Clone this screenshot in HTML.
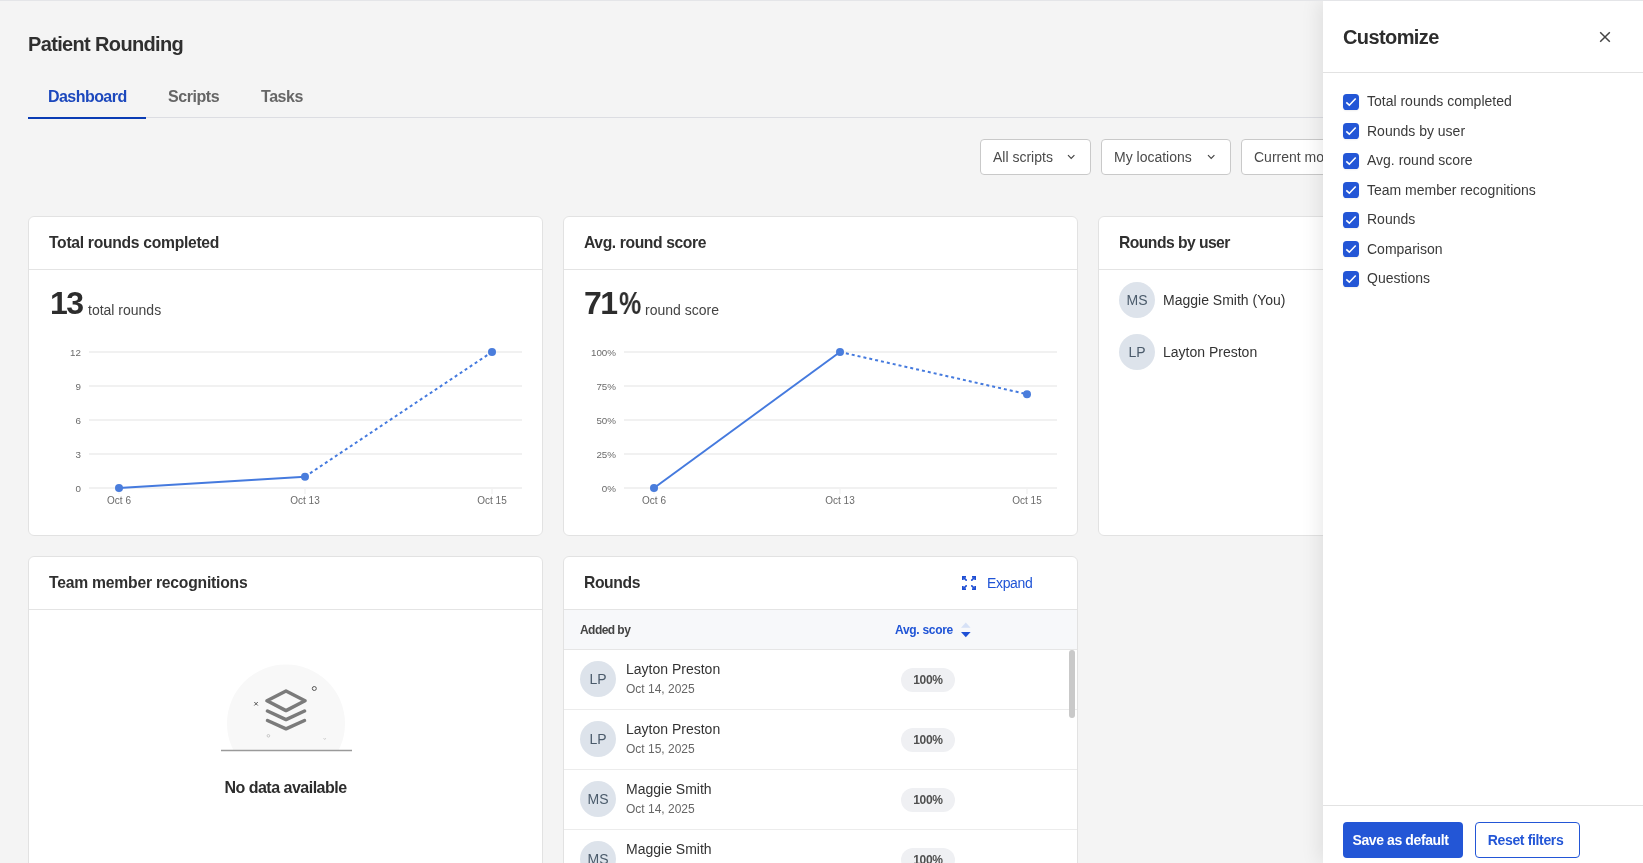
<!DOCTYPE html>
<html lang="en">
<head>
<meta charset="utf-8">
<title>Patient Rounding</title>
<style>
body *{will-change:transform}
*{box-sizing:border-box;margin:0;padding:0}
html,body{width:1643px;height:863px;overflow:hidden}
body{background:#f4f4f4;font-family:"Liberation Sans",Arial,sans-serif;color:#333;position:relative}
.a{position:absolute;white-space:nowrap;line-height:1}
.topline{position:absolute;left:0;top:0;width:1643px;height:1px;background:#e4e5e8;z-index:50}
.title{left:28px;top:34px;font-size:20px;font-weight:bold;color:#2f2f2f;letter-spacing:-0.65px}
.tab{font-size:16px;font-weight:bold;top:89px;letter-spacing:-0.45px}
.tabline{position:absolute;left:28px;top:117px;width:1300px;height:1px;background:#dcdde2}
.tabactive{position:absolute;left:28px;top:117px;width:118px;height:2px;background:#0a3cb4}
.sel{position:absolute;top:139px;height:36px;background:#fff;border:1px solid #c9c9c9;border-radius:4px}
.sel span{position:absolute;left:12px;top:9.5px;font-size:14px;line-height:14px;color:#4a4a4a;white-space:nowrap}
.sel svg{position:absolute;top:14px}
.card{position:absolute;background:#fff;border:1px solid #e2e2e2;border-radius:6px;overflow:hidden}
.card .hd{position:absolute;left:0;top:0;right:0;height:53px;border-bottom:1px solid #e4e4e4}
.card .ht{position:absolute;left:20px;top:18px;font-size:15.7px;font-weight:bold;color:#303030;letter-spacing:-0.4px;line-height:1;white-space:nowrap}
.av{position:absolute;width:36px;height:36px;border-radius:50%;background:#dde3eb;color:#4b5b6b;font-size:14px;line-height:36px;text-align:center}
.panel{position:absolute;left:1323px;top:0;width:320px;height:863px;background:#fff;box-shadow:-4px 0 18px rgba(0,0,0,0.085);z-index:20}
.charts{position:absolute;left:0;top:0;z-index:5;font-family:"Liberation Sans",Arial,sans-serif}
.charts .yl{font-size:9.8px;fill:#6a6a6a}.charts .xl{font-size:10px;fill:#6a6a6a}
.big{font-size:32px;font-weight:bold;color:#2d2d2d;letter-spacing:-1.6px}
.unit{font-size:14px;color:#444}
.nm{font-size:14px;color:#333}
.nodata{font-size:16px;font-weight:bold;color:#2d2d2d;letter-spacing:-0.5px}
.expand{font-size:14px;color:#1f54d6}
.thead{position:absolute;left:0;top:53px;width:513px;height:40px;background:#f7f8fa;border-bottom:1px solid #e6e6e6}
.th{font-size:12px;font-weight:bold;color:#444;letter-spacing:-0.55px}
.row{position:absolute;left:0;width:513px;height:60px;border-bottom:1px solid #ececec}
.rn{font-size:14px;color:#333}
.rd{font-size:12px;color:#666}
.badge{position:absolute;left:337px;top:18px;width:54px;height:24px;border-radius:12px;background:#eff0f3;font-size:12px;font-weight:bold;color:#505050;text-align:center;line-height:24px;letter-spacing:-0.3px}
.sb{position:absolute;left:505px;top:93px;width:6px;height:68px;border-radius:3px;background:#c9c9c9}
.ptitle{font-size:20px;font-weight:bold;color:#2d2d2d;letter-spacing:-0.6px}
.phr{position:absolute;left:0;width:320px;height:1px;background:#e2e2e2}
.cb{position:absolute;left:20px;width:16px;height:16px;border-radius:4px;box-shadow:0 1px 2px rgba(0,0,0,0.07)}
.cb svg{display:block}
.cbl{left:44px;font-size:14px;color:#3a3a3a}
.btnp{position:absolute;left:20px;top:822px;width:120px;height:36px;border-radius:4px;background:#2356d6;color:#fff;font-size:14px;font-weight:bold;line-height:37px;text-align:left;padding-left:9.5px;letter-spacing:-0.4px}
.btns{position:absolute;left:152px;top:822px;width:105px;height:36px;border-radius:4px;background:#fff;border:1px solid #2356d6;color:#2356d6;font-size:14px;font-weight:bold;line-height:35px;text-align:left;letter-spacing:-0.35px;padding-left:11.8px}
</style>
</head>
<body>
<div class="topline"></div>

<div class="a title">Patient Rounding</div>
<div class="a tab" style="left:47.5px;color:#1c48bd;letter-spacing:-0.55px">Dashboard</div>
<div class="a tab" style="left:168px;color:#666">Scripts</div>
<div class="a tab" style="left:261px;color:#666">Tasks</div>
<div class="tabline"></div>
<div class="tabactive"></div>

<div class="sel" style="left:980px;width:111px"><span>All scripts</span>
<svg style="left:86px" width="9" height="6" viewBox="0 0 9 6"><path d="M1 1.2l3.2 3.2L7.4 1.2" fill="none" stroke="#444" stroke-width="1.2"/></svg></div>
<div class="sel" style="left:1101px;width:130px"><span>My locations</span>
<svg style="left:105px" width="9" height="6" viewBox="0 0 9 6"><path d="M1 1.2l3.2 3.2L7.4 1.2" fill="none" stroke="#444" stroke-width="1.2"/></svg></div>
<div class="sel" style="left:1241px;width:130px"><span>Current month</span></div>

<!-- Card 1 -->
<div class="card" style="left:28px;top:216px;width:515px;height:320px">
  <div class="hd"><div class="ht" style="letter-spacing:-0.3px">Total rounds completed</div></div>
  <div class="a big" style="left:21px;top:70px">13</div><div class="a unit" style="left:59px;top:86px">total rounds</div>
</div>
<!-- Card 2 -->
<div class="card" style="left:563px;top:216px;width:515px;height:320px">
  <div class="hd"><div class="ht">Avg. round score</div></div>
  <div class="a big" style="left:20px;top:70px;letter-spacing:-1.6px">71<span style="display:inline-block;transform:scaleX(.78);transform-origin:0 0;margin-left:3px">%</span></div><div class="a unit" style="left:81px;top:86px;letter-spacing:0px">round score</div>
</div>
<!-- Card 3 -->
<div class="card" style="left:1098px;top:216px;width:515px;height:320px">
  <div class="hd"><div class="ht" style="letter-spacing:-0.55px">Rounds by user</div></div>
  <div class="av" style="left:20px;top:65px">MS</div><div class="a nm" style="left:64px;top:76px">Maggie Smith (You)</div>
  <div class="av" style="left:20px;top:117px">LP</div><div class="a nm" style="left:64px;top:128px">Layton Preston</div>
</div>
<!-- Card 4 -->
<div class="card" style="left:28px;top:556px;width:515px;height:330px">
  <div class="hd"><div class="ht" style="letter-spacing:-0.22px">Team member recognitions</div></div>
  <svg class="empty" style="position:absolute;left:0;top:0" width="513" height="330" viewBox="0 0 513 330">
    <defs><clipPath id="cc"><rect x="0" y="0" width="513" height="193.5"/></clipPath></defs>
    <circle cx="257" cy="166.5" r="59" fill="#f8f8f8" clip-path="url(#cc)"/>
    <line x1="192" y1="193.5" x2="323" y2="193.5" stroke="#9a9a9a" stroke-width="1.5"/>
    <path d="M238 143.8 L257 134 L276 143.8 L257 153.6 Z" fill="none" stroke="#7b7b7b" stroke-width="3.5" stroke-linejoin="round"/>
    <path d="M238.5 154 L257 162.6 L275.5 154" fill="none" stroke="#7b7b7b" stroke-width="3.5" stroke-linecap="round" stroke-linejoin="round"/>
    <path d="M238.5 163.5 L257 171.8 L275.5 163.5" fill="none" stroke="#7b7b7b" stroke-width="3.5" stroke-linecap="round" stroke-linejoin="round"/>
    <circle cx="285.3" cy="131.5" r="2" fill="none" stroke="#555" stroke-width="1"/>
    <path d="M225.3 145 l3.5 3.5 M228.8 145 l-3.5 3.5" stroke="#555" stroke-width="1"/>
    <circle cx="239.4" cy="178.8" r="1.3" fill="none" stroke="#bbb" stroke-width="0.8"/>
    <path d="M294.5 181 l1.2 1.6 l1.2 -1.6" fill="none" stroke="#ccc" stroke-width="0.8"/>
  </svg>
  <div class="a nodata" style="left:0;width:513px;text-align:center;top:223px">No data available</div>
</div>
<!-- Card 5 -->
<div class="card" style="left:563px;top:556px;width:515px;height:330px">
  <div class="hd"><div class="ht">Rounds</div>
    <svg style="position:absolute;left:398px;top:19px" width="14" height="14" viewBox="0 0 14 14" fill="none" stroke="#1f4fd4" stroke-width="1.7">
      <path d="M0.85 4V0.85H4M10 0.85H13.15V4M0.85 10V13.15H4M10 13.15H13.15V10"/>
      <path d="M1 1L4.2 4.2M13 1L9.8 4.2M1 13L4.2 9.8M13 13L9.8 9.8" stroke-linecap="round"/>
    </svg>
    <div class="a expand" style="left:423px;top:19px;letter-spacing:-0.35px">Expand</div>
  </div>
  <div class="thead"><div class="a th" style="left:16px;top:14px">Added by</div><div class="a th" style="left:331px;top:14px;color:#1f54d6;letter-spacing:-0.3px">Avg. score</div>
    <svg style="position:absolute;left:396px;top:10px" width="12" height="20" viewBox="0 0 12 20"><path d="M1 7.7L5.8 2.5L10.6 7.7Z" fill="#d6e1f6"/><path d="M1 11.9L10.6 11.9L5.8 17.3Z" fill="#1f50d6"/></svg>
  </div>
  <div class="row" style="top:93px">
    <div class="av" style="left:16px;top:11px">LP</div>
    <div class="a rn" style="left:62px;top:12px">Layton Preston</div>
    <div class="a rd" style="left:62px;top:33px">Oct 14, 2025</div>
    <div class="badge">100%</div>
  </div>
  <div class="row" style="top:153px">
    <div class="av" style="left:16px;top:11px">LP</div>
    <div class="a rn" style="left:62px;top:12px">Layton Preston</div>
    <div class="a rd" style="left:62px;top:33px">Oct 15, 2025</div>
    <div class="badge">100%</div>
  </div>
  <div class="row" style="top:213px">
    <div class="av" style="left:16px;top:11px">MS</div>
    <div class="a rn" style="left:62px;top:12px">Maggie Smith</div>
    <div class="a rd" style="left:62px;top:33px">Oct 14, 2025</div>
    <div class="badge">100%</div>
  </div>
  <div class="row" style="top:273px">
    <div class="av" style="left:16px;top:11px">MS</div>
    <div class="a rn" style="left:62px;top:12px">Maggie Smith</div>
    <div class="a rd" style="left:62px;top:33px">Oct 14, 2025</div>
    <div class="badge">100%</div>
  </div>
  <div class="sb"></div>
</div>

<svg class="charts" width="1323" height="863" viewBox="0 0 1323 863">
<rect x="89" y="351" width="433" height="2" fill="#f1f1f1"/>
<rect x="89" y="385" width="433" height="2" fill="#f1f1f1"/>
<rect x="89" y="419" width="433" height="2" fill="#f1f1f1"/>
<rect x="89" y="453" width="433" height="2" fill="#f1f1f1"/>
<rect x="89" y="487" width="433" height="2" fill="#f1f1f1"/>
<text x="81" y="355.5" text-anchor="end" class="yl">12</text>
<text x="81" y="389.5" text-anchor="end" class="yl">9</text>
<text x="81" y="423.5" text-anchor="end" class="yl">6</text>
<text x="81" y="457.5" text-anchor="end" class="yl">3</text>
<text x="81" y="491.5" text-anchor="end" class="yl">0</text>
<rect x="118.5" y="489" width="1" height="5" fill="#eeeeee"/>
<rect x="304.5" y="489" width="1" height="5" fill="#eeeeee"/>
<rect x="491.5" y="489" width="1" height="5" fill="#eeeeee"/>
<text x="119" y="503.5" text-anchor="middle" class="xl">Oct 6</text>
<text x="305" y="503.5" text-anchor="middle" class="xl">Oct 13</text>
<text x="492" y="503.5" text-anchor="middle" class="xl">Oct 15</text>
<line x1="119" y1="488" x2="305" y2="476.6666666666667" stroke="#457ade" stroke-width="2"/>
<line x1="305" y1="476.6666666666667" x2="492" y2="352" stroke="#457ade" stroke-width="2" stroke-dasharray="3 3"/>
<circle cx="119" cy="488" r="4" fill="#4a7ddc"/>
<circle cx="305" cy="476.6666666666667" r="4" fill="#4a7ddc"/>
<circle cx="492" cy="352" r="4" fill="#4a7ddc"/>
<rect x="624" y="351" width="433" height="2" fill="#f1f1f1"/>
<rect x="624" y="385" width="433" height="2" fill="#f1f1f1"/>
<rect x="624" y="419" width="433" height="2" fill="#f1f1f1"/>
<rect x="624" y="453" width="433" height="2" fill="#f1f1f1"/>
<rect x="624" y="487" width="433" height="2" fill="#f1f1f1"/>
<text x="616" y="355.5" text-anchor="end" class="yl">100%</text>
<text x="616" y="389.5" text-anchor="end" class="yl">75%</text>
<text x="616" y="423.5" text-anchor="end" class="yl">50%</text>
<text x="616" y="457.5" text-anchor="end" class="yl">25%</text>
<text x="616" y="491.5" text-anchor="end" class="yl">0%</text>
<rect x="653.5" y="489" width="1" height="5" fill="#eeeeee"/>
<rect x="839.5" y="489" width="1" height="5" fill="#eeeeee"/>
<rect x="1026.5" y="489" width="1" height="5" fill="#eeeeee"/>
<text x="654" y="503.5" text-anchor="middle" class="xl">Oct 6</text>
<text x="840" y="503.5" text-anchor="middle" class="xl">Oct 13</text>
<text x="1027" y="503.5" text-anchor="middle" class="xl">Oct 15</text>
<line x1="654" y1="488" x2="840" y2="352" stroke="#457ade" stroke-width="2"/>
<line x1="840" y1="352" x2="1027" y2="394.16" stroke="#457ade" stroke-width="2" stroke-dasharray="3 3"/>
<circle cx="654" cy="488" r="4" fill="#4a7ddc"/>
<circle cx="840" cy="352" r="4" fill="#4a7ddc"/>
<circle cx="1027" cy="394.16" r="4" fill="#4a7ddc"/>
</svg>
<div class="panel">
  <div class="a ptitle" style="left:20px;top:27px">Customize</div>
  <svg style="position:absolute;left:276px;top:31px" width="12" height="12" viewBox="0 0 12 12"><path d="M1.2 1.2L10.8 10.8M10.8 1.2L1.2 10.8" stroke="#444" stroke-width="1.5"/></svg>
  <div class="phr" style="top:72px"></div>
  <div class="cb" style="top:94px"><svg width="16" height="16" viewBox="0 0 16 16"><rect x="0" y="0" width="16" height="16" rx="3.6" fill="#2356d6"/><path d="M3.3 8.4L6.3 11.2L12.7 4.5" fill="none" stroke="#fff" stroke-width="1.6"/></svg></div>
  <div class="a cbl" style="top:94px">Total rounds completed</div>
  <div class="cb" style="top:123px"><svg width="16" height="16" viewBox="0 0 16 16"><rect x="0" y="0" width="16" height="16" rx="3.6" fill="#2356d6"/><path d="M3.3 8.4L6.3 11.2L12.7 4.5" fill="none" stroke="#fff" stroke-width="1.6"/></svg></div>
  <div class="a cbl" style="top:124px">Rounds by user</div>
  <div class="cb" style="top:153px"><svg width="16" height="16" viewBox="0 0 16 16"><rect x="0" y="0" width="16" height="16" rx="3.6" fill="#2356d6"/><path d="M3.3 8.4L6.3 11.2L12.7 4.5" fill="none" stroke="#fff" stroke-width="1.6"/></svg></div>
  <div class="a cbl" style="top:153px">Avg. round score</div>
  <div class="cb" style="top:182px"><svg width="16" height="16" viewBox="0 0 16 16"><rect x="0" y="0" width="16" height="16" rx="3.6" fill="#2356d6"/><path d="M3.3 8.4L6.3 11.2L12.7 4.5" fill="none" stroke="#fff" stroke-width="1.6"/></svg></div>
  <div class="a cbl" style="top:183px">Team member recognitions</div>
  <div class="cb" style="top:212px"><svg width="16" height="16" viewBox="0 0 16 16"><rect x="0" y="0" width="16" height="16" rx="3.6" fill="#2356d6"/><path d="M3.3 8.4L6.3 11.2L12.7 4.5" fill="none" stroke="#fff" stroke-width="1.6"/></svg></div>
  <div class="a cbl" style="top:212px">Rounds</div>
  <div class="cb" style="top:241px"><svg width="16" height="16" viewBox="0 0 16 16"><rect x="0" y="0" width="16" height="16" rx="3.6" fill="#2356d6"/><path d="M3.3 8.4L6.3 11.2L12.7 4.5" fill="none" stroke="#fff" stroke-width="1.6"/></svg></div>
  <div class="a cbl" style="top:242px">Comparison</div>
  <div class="cb" style="top:271px"><svg width="16" height="16" viewBox="0 0 16 16"><rect x="0" y="0" width="16" height="16" rx="3.6" fill="#2356d6"/><path d="M3.3 8.4L6.3 11.2L12.7 4.5" fill="none" stroke="#fff" stroke-width="1.6"/></svg></div>
  <div class="a cbl" style="top:271px">Questions</div>
  <div class="phr" style="top:805px"></div>
  <div class="btnp">Save as default</div>
  <div class="btns">Reset filters</div>
</div>
</body>
</html>
